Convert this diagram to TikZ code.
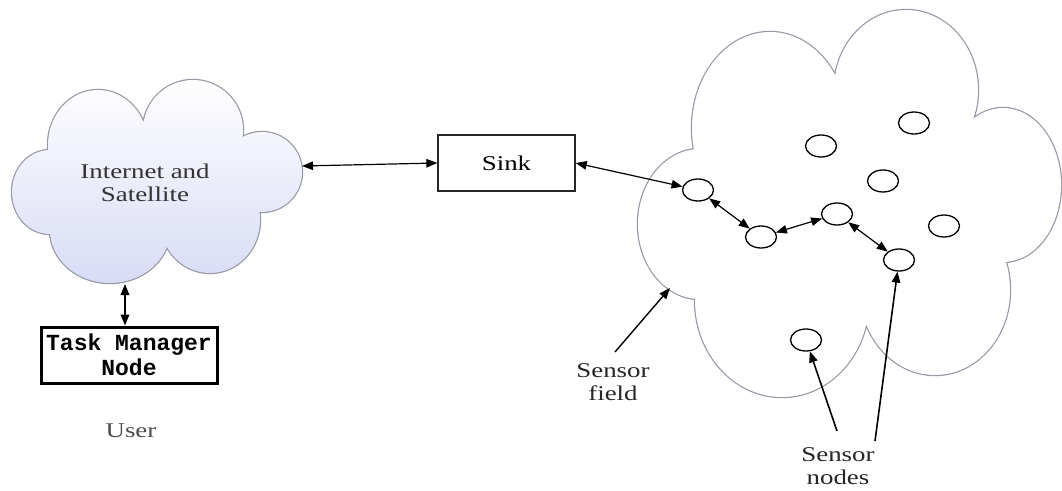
\documentclass[tikz,border=0pt]{standalone}
\usepackage{fontspec}
\setmainfont{Liberation Serif}
\newfontfamily\boxmono{Liberation Mono}
\usepackage{graphicx}
\usetikzlibrary{arrows.meta,shapes.geometric}

% labels are set a little wider than the plain serif
\newcommand\widetext[1]{\scalebox{1.28}[1]{#1}}

\definecolor{cloudedge}{RGB}{150,152,165}
\definecolor{cloudlow}{RGB}{216,219,245}

\tikzset{
  label text/.style={font=\fontsize{21}{23.5}\selectfont, align=center, inner sep=0pt},
  sensor/.style={ellipse, draw=black, line width=1.3pt, fill=white,
                 minimum width=31pt, minimum height=22pt, inner sep=0pt},
  sinkbox/.style={rectangle, draw=black!85, line width=1.3pt,
                  minimum width=137pt, minimum height=56pt},
  taskbox/.style={rectangle, draw=black, line width=3pt, fill=white,
                  minimum width=176pt, minimum height=56pt, inner sep=0pt,
                  font=\boxmono\bfseries\fontsize{23}{25}\selectfont, align=center},
  link/.style={{Triangle[length=11pt,width=8.5pt]}-{Triangle[length=11pt,width=8.5pt]},
               line width=1.2pt},
  pointer/.style={-{Triangle[length=11pt,width=8.5pt]}, line width=1.6pt},
}

% outline of the "Internet and Satellite" cloud, as a union of ellipses
\def\inetcloud{
  (98,145) ellipse [x radius=50, y radius=55]
  (193,130) ellipse [x radius=50, y radius=50]
  (262,172) ellipse [x radius=40, y radius=40]
  (210,220) ellipse [x radius=50, y radius=53]
  (110,230) ellipse [x radius=60, y radius=53]
  (50,192) ellipse [x radius=38, y radius=42]
  (155,185) ellipse [x radius=90, y radius=62]
}
% outline of the sensor field
\def\fieldcloud{
  (700,224) ellipse [x radius=62, y radius=75]
  (770,128) ellipse [x radius=78, y radius=96]
  (906,90) ellipse [x radius=72, y radius=80]
  (1003,185) ellipse [x radius=58, y radius=77]
  (935,290) ellipse [x radius=75, y radius=85]
  (782,300) ellipse [x radius=87, y radius=97]
  (840,215) ellipse [x radius=130, y radius=110]
  (930,170) ellipse [x radius=50, y radius=50]
}

\begin{document}
\begin{tikzpicture}[x=1pt, y=-1pt]
\useasboundingbox (0,0) rectangle (1062,490);
\fill[white] (0,0) rectangle (1062,490);

% Internet and Satellite cloud: wide stroke, then the shaded interior over it
\draw[cloudedge, line width=2.4pt] \inetcloud;
\begin{scope}
  \clip \inetcloud;
  \shade[top color=white, bottom color=cloudlow] (0,78) rectangle (310,286);
\end{scope}
\node[label text, text=black!80] (inet) at (145,183)
  {\widetext{Internet and}\\\widetext{Satellite}};
\coordinate (inetE) at (302,166);
\coordinate (inetS) at (125,284);

% sensor field cloud
\draw[cloudedge, line width=2.4pt] \fieldcloud;
\fill[white] \fieldcloud;

% user side
\node[taskbox] (tm) at (129,355) {Task Manager\\Node};
\node[label text, text=black!70] (user) at (131,431) {\widetext{User}};

% sink
\node[sinkbox, label text] (sink) at (506.5,163) {\widetext{Sink}};

% sensor nodes
\node[sensor] (s1) at (698,190) {};
\node[sensor] (s2) at (761,237) {};
\node[sensor] (s3) at (837,214) {};
\node[sensor] (s4) at (899,260) {};
\node[sensor] (s5) at (821,146) {};
\node[sensor] (s6) at (914,123) {};
\node[sensor] (s7) at (883,181) {};
\node[sensor] (s8) at (944,226) {};
\node[sensor] (s9) at (806,340) {};

% links
\draw[link, line width=2pt] (inetS) -- (inetS |- tm.north);
\draw[link] (inetE) -- (sink.west);
\draw[link] (sink.east) -- (s1);
\draw[link] (s1) -- (s2);
\draw[link] (s2) -- (s3);
\draw[link] (s3) -- (s4);

% annotations
\node[label text, text=black!85] (field) at (613,382) {\widetext{Sensor}\\\widetext{field}};
\coordinate (fieldTail) at (615,352);
\coordinate (fieldTip) at (670,288);
\draw[pointer, line width=1.4pt] (fieldTail) -- (fieldTip);

\node[label text, text=black!85] (nodes) at (838,466) {\widetext{Sensor}\\\widetext{nodes}};
\coordinate (nodesTailA) at (837,431);
\coordinate (nodesTailB) at (875,441);
\draw[pointer] (nodesTailA) -- (s9);
\draw[pointer] (nodesTailB) -- (s4);
\end{tikzpicture}
\end{document}
